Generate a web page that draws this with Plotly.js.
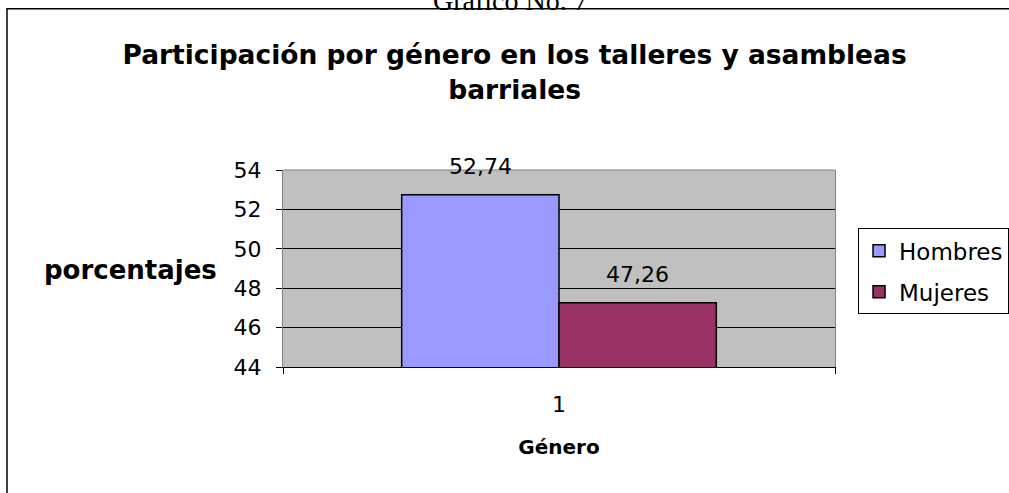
<!DOCTYPE html>
<html>
<head>
<meta charset="utf-8">
<script src="https://cdn.plot.ly/plotly-3.0.1.min.js"></script>
<style>html,body{margin:0;padding:0;background:#fff;}#chart{width:1009px;height:493px;}</style>
</head>
<body>
<div id="chart"></div>
<script>
const categories = ['1'];
const seriesNames = ['Hombres', 'Mujeres'];
const hombres = [52.74];
const mujeres = [47.26];
const yTicks = [44, 46, 48, 50, 52, 54];

const fmt = v => v.toFixed(2).replace('.', ',');
const F = 'DejaVu Sans, Arial, sans-serif';

const traces = [
  {type: 'bar', name: seriesNames[0], x: categories, y: hombres, legendgroup: 'a',
   marker: {color: '#9999FF', line: {color: '#000', width: 1.5}}},
  {type: 'bar', name: seriesNames[1], x: categories, y: mujeres, legendgroup: 'b',
   marker: {color: '#993366', line: {color: '#000', width: 1.5}}}
];

const labelShift = [-78.75, 78.75];
const dataAnnotations = [hombres, mujeres].map((arr, i) => ({
  x: categories.indexOf(categories[0]), y: arr[0], xref: 'x', yref: 'y', text: fmt(arr[0]),
  showarrow: false, xanchor: 'center', yanchor: 'bottom', xshift: labelShift[i], yshift: 14,
  font: {family: F, size: 22, color: '#000'}
}));

const layout = {
  width: 1009, height: 493,
  margin: {l: 283, r: 174, t: 170, b: 126, autoexpand: false},
  paper_bgcolor: '#fff', plot_bgcolor: '#C0C0C0',
  separators: ',.',
  barmode: 'group', bargap: 0.43, bargroupgap: 0,
  title: {
    text: '<b>Participación por género en los talleres y asambleas<br>barriales</b>',
    x: 0.51, xanchor: 'center', y: 0.87, yanchor: 'top',
    font: {family: F, size: 26.5, color: '#000'}
  },
  xaxis: {
    type: 'category', range: [-0.5, categories.length - 0.5], autorange: false,
    tickson: 'boundaries', ticks: 'outside', ticklen: 6, tickcolor: '#000',
    showline: true, linecolor: '#000', linewidth: 1, showgrid: false,
    tickfont: {family: F, size: 22, color: '#000'}, ticklabelstandoff: 18,
    title: {text: '<b>Género</b>', font: {family: F, size: 20, color: '#000'}, standoff: 23}
  },
  yaxis: {
    range: [44, 54], tickvals: yTicks, ticks: 'outside', ticklen: 6, tickcolor: '#000',
    showline: true, linecolor: '#808080', linewidth: 1, mirror: true,
    showgrid: true, gridcolor: '#000', gridwidth: 1, zeroline: false,
    tickfont: {family: F, size: 22, color: '#000'}, ticklabelstandoff: 10
  },
  legend: {
    x: 1.0417, xanchor: 'left', y: 0.704, yanchor: 'top',
    bgcolor: '#fff', bordercolor: '#000', borderwidth: 1,
    font: {family: F, size: 23, color: '#000'},
    traceorder: 'grouped', tracegroupgap: 8
  },
  shapes: [
    {type: 'line', xref: 'paper', yref: 'paper', x0: 0, x1: 1, y0: 1, y1: 1,
     line: {color: '#808080', width: 1}, layer: 'above'},
    {type: 'rect', xref: 'paper', yref: 'paper', x0: -0.5, x1: 1.5, y0: -0.7, y1: 1.818,
     line: {color: '#000', width: 1.5}, fillcolor: 'rgba(0,0,0,0)', layer: 'below'}
  ],
  annotations: dataAnnotations.concat([
    {text: '<b>porcentajes</b>', xref: 'paper', yref: 'paper', x: -0.277, y: 0.491,
     xanchor: 'center', yanchor: 'middle',
     showarrow: false, font: {family: F, size: 26, color: '#000'}},
    {text: 'Gráfico No. 7', xref: 'paper', yref: 'paper', x: 0.412, y: 1.86,
     xanchor: 'center', yanchor: 'middle', showarrow: false,
     font: {family: 'Liberation Serif, Times New Roman, serif', size: 28, color: '#000'}}
  ]),
  showlegend: true
};

Plotly.newPlot('chart', traces, layout, {displayModeBar: false, staticPlot: true});
</script>
</body>
</html>
